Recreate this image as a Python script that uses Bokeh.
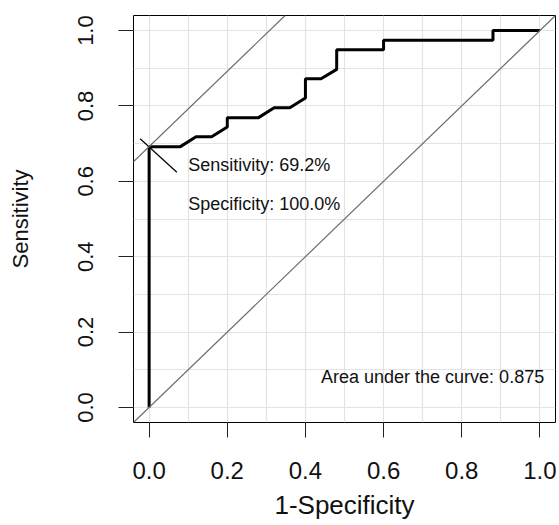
from bokeh.plotting import figure
from bokeh.models import FixedTicker, Slope, Range1d, Label
from bokeh.embed import file_html
from bokeh.resources import INLINE

# ROC curve data (1 - specificity, sensitivity)
fpr = [0.0, 0.0, 0.08, 0.12, 0.16, 0.20, 0.20, 0.28, 0.32, 0.36, 0.40, 0.40,
       0.44, 0.48, 0.48, 0.60, 0.60, 0.88, 0.88, 1.0]
tpr = [0.0, 0.692, 0.692, 0.718, 0.718, 0.744, 0.769, 0.769, 0.795, 0.795,
       0.821, 0.872, 0.872, 0.897, 0.949, 0.949, 0.974, 0.974, 1.0, 1.0]

axis_ticks = [0.0, 0.2, 0.4, 0.6, 0.8, 1.0]
tick_labels = ["0.0", "0.2", "0.4", "0.6", "0.8", "1.0"]
grid_ticks = [0.0, 0.1, 0.2, 0.3, 0.4, 0.5, 0.6, 0.7, 0.8, 0.9, 1.0]

best_fpr = 0.0
best_tpr = 0.692
best_sens_label = "Sensitivity: 69.2%"
best_spec_label = "Specificity: 100.0%"
auc_label = "Area under the curve: 0.875"
x_title = "1-Specificity"
y_title = "Sensitivity"

# short cross stroke through the best threshold point
mark_x = [-0.023, 0.071]
mark_y = [0.713, 0.624]

FONT = "Liberation Sans"

p = figure(width=558, height=523, output_backend="svg", toolbar_location=None,
           x_range=Range1d(-0.04, 1.04), y_range=Range1d(-0.04, 1.04),
           min_border_left=133, min_border_right=3, min_border_top=15,
           min_border_bottom=101)
p.background_fill_color = "white"
p.border_fill_color = "white"
p.outline_line_color = "black"
p.outline_line_width = 1
p.outline_line_alpha = 1.0

# grid
p.xgrid.ticker = FixedTicker(ticks=grid_ticks)
p.ygrid.ticker = FixedTicker(ticks=grid_ticks)
for g in (p.xgrid, p.ygrid):
    g.grid_line_color = "#e3e3e3"
    g.grid_line_width = 1.2

# axes
for ax in (p.xaxis, p.yaxis):
    ax.ticker = FixedTicker(ticks=axis_ticks)
    ax.major_label_overrides = {t: l for t, l in zip(axis_ticks, tick_labels)}
    ax.axis_line_color = None
    ax.major_tick_line_color = "#222222"
    ax.major_tick_line_width = 1
    ax.major_tick_in = 0
    ax.major_tick_out = 15
    ax.minor_tick_line_color = None
    ax.major_label_text_font = FONT
    ax.major_label_text_color = "#111111"
    ax.axis_label_text_font = FONT
    ax.axis_label_text_font_style = "normal"
    ax.axis_label_text_color = "#111111"

p.xaxis.major_label_text_font_size = "24px"
p.xaxis.major_label_standoff = 24
p.xaxis.axis_label = x_title
p.xaxis.axis_label_text_font_size = "26px"
p.xaxis.axis_label_standoff = 8

p.yaxis.major_label_text_font_size = "22px"
p.yaxis.major_label_orientation = "vertical"
p.yaxis.major_label_standoff = 25
p.yaxis.axis_label = y_title
p.yaxis.axis_label_text_font_size = "22px"
p.yaxis.axis_label_standoff = 43

# reference diagonal and best-threshold tangent line
p.add_layout(Slope(gradient=1, y_intercept=0, line_color="#6e6e6e", line_width=1.2))
p.add_layout(Slope(gradient=1, y_intercept=best_tpr - best_fpr,
                   line_color="#6e6e6e", line_width=1.2))

# ROC curve
p.line(fpr, tpr, line_color="black", line_width=3)

# cross stroke at best point
p.line(mark_x, mark_y, line_color="black", line_width=1.2)

# annotations
p.add_layout(Label(x=0.10, y=0.642, text=best_sens_label, text_font=FONT,
                   text_font_size="18px", text_color="#111111",
                   text_align="left", text_baseline="middle"))
p.add_layout(Label(x=0.10, y=0.541, text=best_spec_label, text_font=FONT,
                   text_font_size="18px", text_color="#111111",
                   text_align="left", text_baseline="middle"))
p.add_layout(Label(x=1.011, y=0.08, text=auc_label, text_font=FONT,
                   text_font_size="18px", text_color="#111111",
                   text_align="right", text_baseline="middle"))

open("out.html", "w").write(file_html(p, INLINE))
